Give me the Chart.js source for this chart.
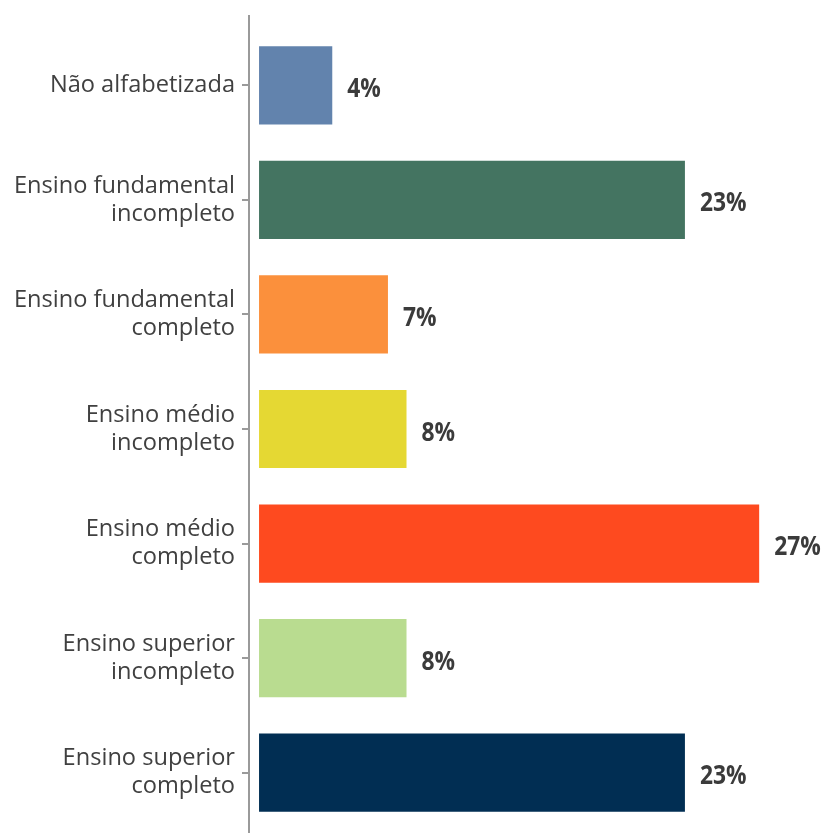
<!DOCTYPE html>
<html>
<head>
<meta charset="utf-8">
<script src="https://cdn.jsdelivr.net/npm/chart.js@4"></script>
<style>
  html, body { margin:0; padding:0; background:#fff; }
  canvas { display:block; }
</style>
</head>
<body>
<canvas id="chart" width="829" height="833"></canvas>
<script>
// Escolaridade - distribution in %
const categories = [
  'Não alfabetizada',
  ['Ensino fundamental', 'incompleto'],
  ['Ensino fundamental', 'completo'],
  ['Ensino médio', 'incompleto'],
  ['Ensino médio', 'completo'],
  ['Ensino superior', 'incompleto'],
  ['Ensino superior', 'completo']
];
const values = [4, 23, 7, 8, 27, 8, 23];
const barColors = ['#6283AD', '#447461', '#FB903C', '#E5D833', '#FE4A1F', '#B9DC90', '#012E53'];

const $ = id => document.getElementById(id);

// value labels at bar ends (slightly condensed, like the original)
const valueLabels = {
  id: 'valueLabels',
  afterDatasetsDraw(chart){
    const ctx = chart.ctx;
    const meta = chart.getDatasetMeta(0);
    ctx.save();
    ctx.font = 'bold 24px "Liberation Sans Narrow", "Open Sans", sans-serif';
    ctx.fillStyle = '#3b3b3b';
    ctx.textAlign = 'left';
    ctx.textBaseline = 'middle';
    meta.data.forEach((bar, i)=>{
      ctx.save();
      ctx.translate(bar.x + 14, bar.y + 4);
      ctx.scale(0.95, 1.1);
      ctx.fillText(values[i] + '%', 0, 0);
      ctx.restore();
    });
    ctx.restore();
  }
};

// vertical axis line running a little past the plot area
const axisLine = {
  id: 'axisLine',
  afterDraw(chart){
    const ctx = chart.ctx;
    const x = chart.scales.y.right;
    ctx.save();
    ctx.strokeStyle = '#9a9a9a';
    ctx.lineWidth = 2;
    ctx.beginPath();
    ctx.moveTo(x, 15);
    ctx.lineTo(x, chart.height);
    ctx.stroke();
    ctx.restore();
  }
};

new Chart($('chart').getContext('2d'), {
  type: 'bar',
  data: {
    labels: categories,
    datasets: [{
      data: values,
      backgroundColor: barColors,
      borderColor: 'rgba(255,255,255,0.35)',
      borderWidth: 1,
      categoryPercentage: 1,
      barPercentage: 0.7
    }]
  },
  options: {
    indexAxis: 'y',
    responsive: false,
    animation: false,
    layout: { padding: { top: 28, bottom: 3, left: 0, right: 15 } },
    plugins: { legend: { display: false }, tooltip: { enabled: false } },
    scales: {
      x: { display: false, min: -0.54, max: 29.9 },
      y: {
        afterFit(scale){ scale.width = 249; scale.paddingTop = 0; scale.paddingBottom = 0; },
        border: { display: false },
        grid: { drawOnChartArea: false, offset: false, tickLength: 7, color: '#9a9a9a', lineWidth: 2 },
        ticks: {
          padding: 7,
          color: '#404040',
          font: { family: '"Open Sans", sans-serif', size: 23.6, lineHeight: 1.19 }
        }
      }
    }
  },
  plugins: [valueLabels, axisLine]
});
</script>
</body>
</html>
